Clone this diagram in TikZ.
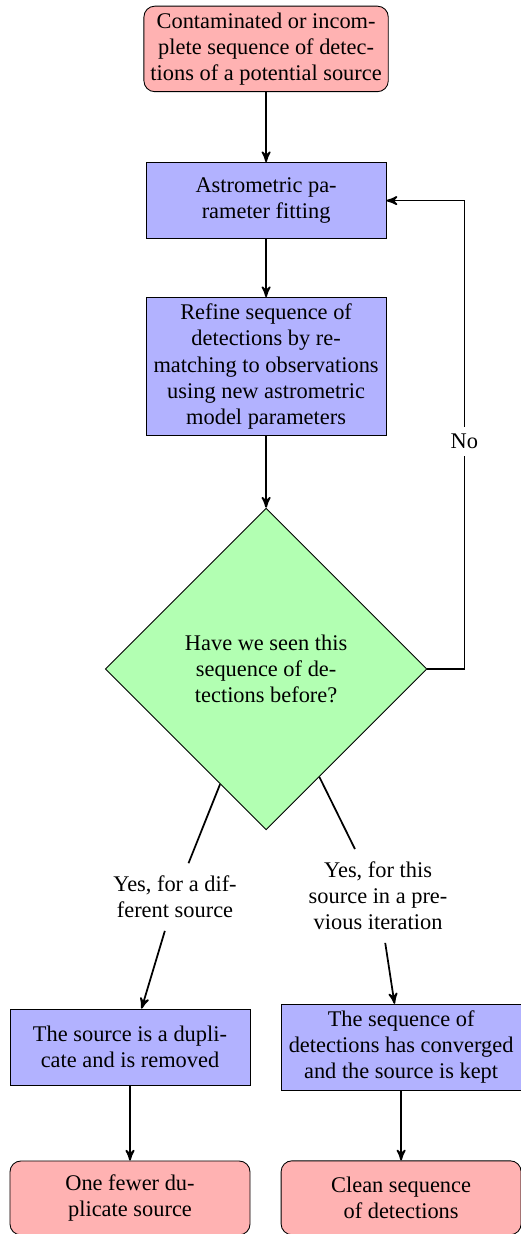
\documentclass[tikz,border=0pt]{standalone}
\usepackage{fontspec}
\setmainfont{Liberation Serif}
\usetikzlibrary{shapes.geometric, positioning, arrows, calc}

\begin{document}
\begin{tikzpicture}[->,>=stealth',thick,font=\fontsize{10.3pt}{12pt}\selectfont]
        \tikzstyle{terminal}=[rectangle, rounded corners=5pt, draw, thin, fill=red!30, align=center, minimum width=110.4pt, minimum height=34pt, inner sep=3pt]
        \tikzstyle{process}=[rectangle, draw, thin, fill=blue!30, align=center, minimum width=110.4pt, minimum height=35pt, inner sep=3pt]
        \tikzstyle{decision}=[diamond, draw, thin, fill=green!30, align=center, aspect=1, minimum width=148pt, minimum height=148pt, inner sep=0pt]
        \tikzstyle{answer}=[align=center, inner sep=5.5pt]

        \useasboundingbox (-122.4pt,22.5pt) rectangle (116.8pt,-545.1pt);

        \node[terminal] (start)                   {Contaminated or incom-\\plete sequence of detec-\\tions of a potential source};
        \node[process]  (fit)    [below=32.2pt of start] {Astrometric pa-\\rameter fitting};
        \node[process]  (refine) [below=26.7pt of fit]   {Refine sequence of\\detections by re-\\matching to observations\\using new astrometric\\model parameters};
        \node[decision] (seen)   [below=33pt of refine]  {Have we seen this\\sequence of de-\\tections before?};

        \node[answer]   (other)  at ($(seen)+(-41.9pt,-104.9pt)$) {Yes, for a dif-\\ferent source};
        \node[answer]   (same)   at ($(seen)+(51.5pt,-104.4pt)$)  {Yes, for this\\source in a pre-\\vious iteration};

        \node[process]  (dup)    at ($(seen)+(-62.6pt,-173.9pt)$) {The source is a dupli-\\cate and is removed};
        \node[process]  (conv)   at ($(seen)+(62.1pt,-173.9pt)$)  {The sequence of\\detections has converged\\and the source is kept};
        \node[terminal] (fewer)  [below=34.5pt of dup]  {One fewer du-\\plicate source};
        \node[terminal] (clean)  [below=32.2pt of conv] {Clean sequence\\of detections};

        \path (start)  edge (fit)
              (fit)    edge (refine)
              (refine) edge (seen)
              (dup)    edge (fewer)
              (conv)   edge (clean);

        \draw[-] (seen) -- (other);
        \draw (other) -- (dup);
        \draw[-] (seen) -- (same);
        \draw (same) -- (conv);

        \draw (seen.east) -- ++(17pt,0) coordinate (turn) |- node[pos=0.243, fill=white] {No} (fit.east);
    \end{tikzpicture}
\end{document}
